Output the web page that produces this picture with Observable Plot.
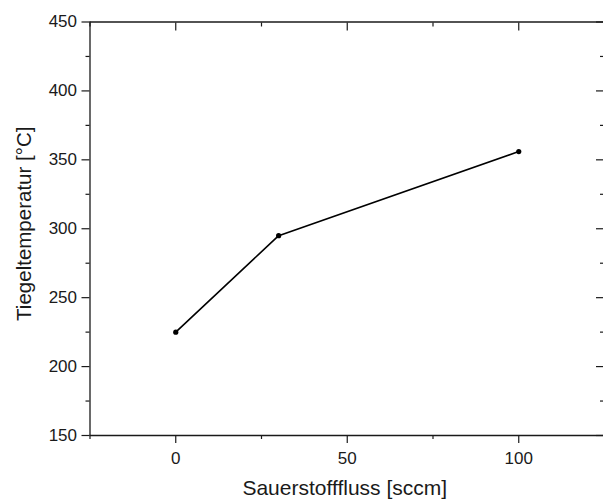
<!DOCTYPE html>
<html>
<head>
<meta charset="utf-8">
<script src="https://cdn.jsdelivr.net/npm/d3@7"></script>
<script src="https://cdn.jsdelivr.net/npm/@observablehq/plot@0.6"></script>
<style>
  html, body { margin: 0; padding: 0; background: #fff; overflow: hidden; }
</style>
</head>
<body>
<div id="chart"></div>
<script>
const flow = [0, 30, 100];
const temp = [225, 295, 356];

const xMajor = [0, 50, 100];
const xMinor = [-25, 25, 75, 125];
const yMajor = [150, 200, 250, 300, 350, 400, 450];
const yMinor = [175, 225, 275, 325, 375, 425];

const xLabel = "Sauerstofffluss [sccm]";
const yLabel = "Tiegeltemperatur [°C]";

const data = flow.map((f, i) => ({flow: f, temp: temp[i]}));
const ink = "#1a1a1a";
const noText = () => "";

const chart = Plot.plot({
  width: 603,
  height: 500,
  marginTop: 21.5,
  marginBottom: 65,
  marginLeft: 89.5,
  marginRight: 0,
  style: {fontFamily: "'Liberation Sans', Arial, sans-serif", color: ink, background: "#fff", overflow: "visible"},
  x: {domain: [-25, 125], range: [89.5, 604]},
  y: {domain: [150, 450]},
  marks: [
    // frame
    Plot.ruleX([-25, 125], {stroke: ink, strokeWidth: 1.3}),
    Plot.ruleY([150, 450], {stroke: ink, strokeWidth: 1.3}),
    // bottom axis
    Plot.axisX({ticks: xMajor, anchor: "bottom", tickSize: 8, tickPadding: 8, fontSize: 17, label: null, strokeWidth: 1.2}),
    Plot.axisX({ticks: xMinor, anchor: "bottom", tickSize: 4, tickFormat: noText, label: null, strokeWidth: 1.2}),
    // top axis (inward ticks)
    Plot.axisX({ticks: xMajor, anchor: "top", tickSize: 8, insetTop: 8, tickFormat: noText, label: null, strokeWidth: 1.2}),
    Plot.axisX({ticks: xMinor, anchor: "top", tickSize: 4, insetTop: 4, tickFormat: noText, label: null, strokeWidth: 1.2}),
    // left axis
    Plot.axisY({ticks: yMajor, anchor: "left", tickSize: 8, tickPadding: 5, fontSize: 17, label: null, strokeWidth: 1.2}),
    Plot.axisY({ticks: yMinor, anchor: "left", tickSize: 4, tickFormat: noText, label: null, strokeWidth: 1.2}),
    // right axis (inward ticks)
    Plot.axisY({ticks: yMajor, anchor: "right", tickSize: 8, insetRight: 8, tickFormat: noText, label: null, strokeWidth: 1.2}),
    Plot.axisY({ticks: yMinor, anchor: "right", tickSize: 4, insetRight: 4, tickFormat: noText, label: null, strokeWidth: 1.2}),
    // axis titles
    Plot.text([xLabel], {text: d => d, frameAnchor: "bottom", dx: -2, dy: 53, lineAnchor: "middle", textAnchor: "middle", fontSize: 21, fill: ink}),
    Plot.text([yLabel], {text: d => d, frameAnchor: "left", rotate: -90, dx: -66, dy: -5, lineAnchor: "middle", textAnchor: "middle", fontSize: 20.5, fill: ink}),
    // data
    Plot.line(data, {x: "flow", y: "temp", stroke: "#000", strokeWidth: 1.6}),
    Plot.dot(data, {x: "flow", y: "temp", r: 2.6, fill: "#000", stroke: "none"})
  ]
});

document.getElementById("chart").appendChild(chart);
</script>
</body>
</html>
